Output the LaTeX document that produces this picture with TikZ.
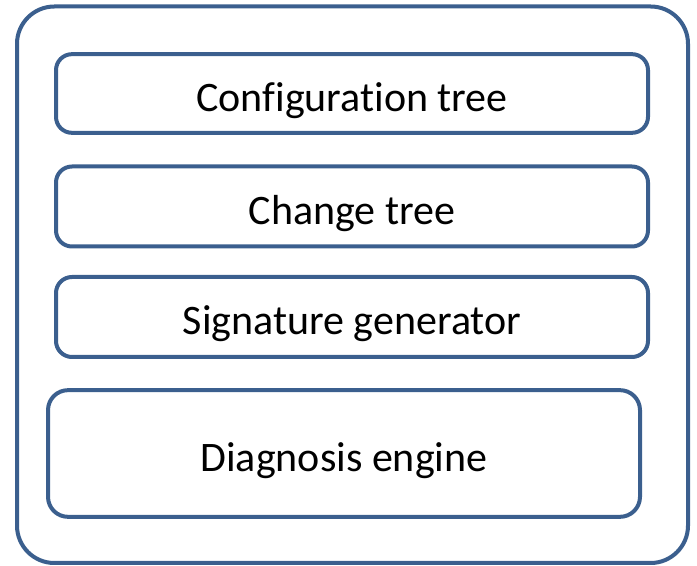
\documentclass[tikz,border=0pt]{standalone}
\usepackage{fontspec}
\setmainfont[Ligatures=NoCommon]{Carlito}
\definecolor{frameblue}{HTML}{3B5F8E}
\begin{document}
\begin{tikzpicture}[x=0.75pt,y=-0.75pt,
  layer/.style={draw=frameblue,line width=3pt,rounded corners=12pt,
    minimum width=444pt,anchor=center,font=\fontsize{31.5}{36}\selectfont,
    inner sep=0pt,text height=26.5pt,text depth=0pt},
  shell/.style={draw=frameblue,line width=3pt,rounded corners=28pt}]
\useasboundingbox (0,0) rectangle (697,566);
\draw[shell] (17,6.5) rectangle (688,563);
\node[layer,minimum height=59pt] (cfg) at (352,93.5) {Configuration tree};
\node[layer,minimum height=60pt] (chg) at (352,206.5) {Change tree};
\node[layer,minimum height=60pt] (sig) at (352,317) {Signature generator};
\node[layer,minimum height=95pt,rounded corners=15pt] (diag) at (344,453.5) {Diagnosis engine};
\end{tikzpicture}
\end{document}
